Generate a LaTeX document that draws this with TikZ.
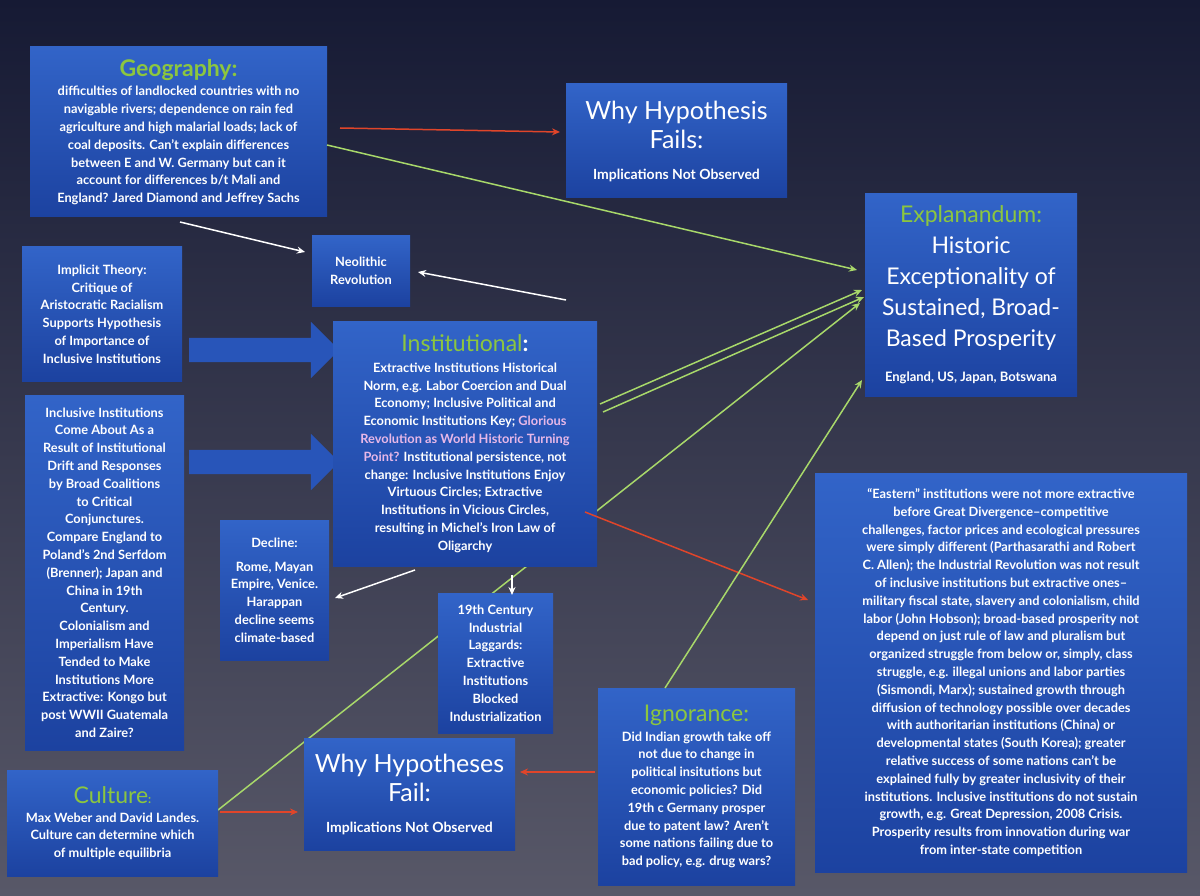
\documentclass[tikz,border=0pt]{standalone}
\usepackage{fontspec}
\setmainfont{Lato}
\usetikzlibrary{shapes.arrows,arrows.meta}
\definecolor{gtitle}{HTML}{8CC63F}
\definecolor{pinkish}{HTML}{E8B8E8}
\definecolor{redarr}{HTML}{E0452A}
\definecolor{greenarr}{HTML}{A8D86A}
\begin{document}
\begin{tikzpicture}[x=1pt,y=-1pt,
  box/.style={draw=none,top color={rgb,255:red,50;green,100;blue,200},bottom color={rgb,255:red,28;green,66;blue,160},
    text=white,align=center,inner sep=2pt,font=\fontsize{12.8}{17.8}\selectfont\bfseries},
  big/.style={font=\fontsize{25}{29}\selectfont\mdseries},
  wht/.style={white,line width=1.5pt,-{Stealth[length=8pt,width=7pt]}},
  red/.style={redarr,line width=1.5pt,-{Stealth[length=8pt,width=7pt]}},
  grn/.style={greenarr,line width=1.5pt,-{Stealth[length=8pt,width=7pt]}},
  barrow/.style={single arrow,draw=none,fill={rgb,255:red,40;green,85;blue,185},single arrow head extend=16pt,minimum height=150pt,inner xsep=0pt,inner ysep=12pt,shape border rotate=0}]
\useasboundingbox (0,0) rectangle (1200,896);
\shade[top color={rgb,255:red,22;green,26;blue,52},bottom color={rgb,255:red,88;green,88;blue,104}] (0,0) rectangle (1200,896);

% connector endpoints
\coordinate (g1) at (340,128); \coordinate (w1) at (560,132);
\coordinate (g2) at (327,145); \coordinate (e1) at (857,270);
\coordinate (g3) at (180,222); \coordinate (n1) at (305,252);
\coordinate (i1) at (566,300); \coordinate (n2) at (418,272);
\coordinate (i2) at (600,404); \coordinate (e2) at (862,290);
\coordinate (i3) at (603,412); \coordinate (e3) at (864,297);
\coordinate (i4) at (585,512); \coordinate (s1) at (808,600);
\coordinate (i5) at (415,570); \coordinate (d1) at (335,598);
\coordinate (i6) at (512,575); \coordinate (t1) at (512,595);
\coordinate (c1) at (218,810); \coordinate (e4) at (860,303);
\coordinate (c2) at (220,812); \coordinate (b1) at (298,812);
\coordinate (g4) at (665,688); \coordinate (e5) at (862,380);
\coordinate (g5) at (595,772); \coordinate (b2) at (520,772);

\draw[grn] (c1) -- (e4);

\node[barrow] (ba1) at (258,350) {};
\node[barrow] (ba2) at (258,462) {};

\node[box,minimum width=297pt,minimum height=170pt] (geo) at (178.5,132) {{\color{gtitle}\fontsize{23}{26}\selectfont Geography:}\\[2pt]
difficulties of landlocked  countries with no\\ navigable rivers; dependence on rain fed\\ agriculture and high malarial loads; lack of\\ coal deposits. Can't explain differences\\ between E and W. Germany but can it\\ account for differences b/t Mali and\\ England?  Jared Diamond and Jeffrey Sachs};

\node[box,big,minimum width=221pt,minimum height=114pt] (why1) at (676.5,141) {Why Hypothesis\\ Fails:\\[2pt] {\fontsize{14}{18}\selectfont\bfseries Implications Not  Observed}};

\node[box,font=\fontsize{23}{31}\selectfont\mdseries,minimum width=212pt,minimum height=202pt] (exp) at (971,295) {{\color{gtitle}Explanandum:}\\ Historic\\ Exceptionality of\\ Sustained, Broad-\\ Based Prosperity\\[4pt] {\fontsize{13}{17}\selectfont\bfseries England, US, Japan, Botswana}};

\node[box,minimum width=98pt,minimum height=70pt] (neo) at (361,271) {Neolithic\\ Revolution};

\node[box,minimum width=160pt,minimum height=134pt] (imp) at (102,314) {Implicit Theory:\\ Critique of\\ Aristocratic Racialism\\ Supports Hypothesis\\ of Importance of\\ Inclusive Institutions};

\node[box,minimum width=264pt,minimum height=245pt] (inst) at (465,443.5) {{\color{gtitle}\fontsize{23}{26}\selectfont\mdseries Institutional}{\fontsize{23}{26}\selectfont :}\\[3pt]
Extractive Institutions Historical\\ Norm, e.g. Labor Coercion and Dual\\ Economy; Inclusive Political and\\ Economic Institutions Key; {\color{pinkish}Glorious}\\ {\color{pinkish}Revolution as World Historic Turning}\\ {\color{pinkish}Point?} Institutional persistence, not\\ change: Inclusive Institutions Enjoy\\ Virtuous Circles; Extractive\\ Institutions in  Vicious Circles,\\ resulting in Michel's Iron Law of\\ Oligarchy};

\node[box,minimum width=159pt,minimum height=355pt] (incl) at (104.5,572.5) {Inclusive Institutions\\ Come About As a\\ Result of Institutional\\ Drift and Responses\\ by Broad Coalitions\\ to Critical\\ Conjunctures.\\ Compare England to\\ Poland's 2nd Serfdom\\ (Brenner); Japan and\\ China in 19th\\ Century.\\ Colonialism and\\ Imperialism Have\\ Tended to Make\\ Institutions More\\ Extractive: Kongo but\\ post WWII Guatemala\\ and Zaire?};

\node[box,minimum width=109pt,minimum height=140pt] (dec) at (274.5,590) {Decline:\\[6pt] Rome,  Mayan\\ Empire, Venice.\\ Harappan\\ decline seems\\ climate-based};

\node[box,minimum width=115pt,minimum height=140pt] (ind) at (495.5,663) {19th Century\\ Industrial\\ Laggards:\\ Extractive\\ Institutions\\ Blocked\\ Industrialization};

\node[box,minimum width=372pt,minimum height=399pt] (east) at (1001,672.5) {``Eastern'' institutions were not more extractive\\ before Great Divergence--competitive\\ challenges, factor prices and ecological pressures\\ were simply different (Parthasarathi and Robert\\ C. Allen); the Industrial Revolution was not result\\ of inclusive institutions but extractive ones--\\ military fiscal state, slavery and colonialism, child\\ labor (John Hobson); broad-based prosperity not\\ depend on just rule of law and pluralism but\\ organized struggle from below or, simply, class\\ struggle, e.g. illegal unions and labor parties\\ (Sismondi, Marx); sustained growth through\\ diffusion of technology possible over decades\\ with authoritarian institutions (China) or\\ developmental states (South Korea); greater\\ relative success of some nations can't be\\ explained fully by greater inclusivity of  their\\ institutions. Inclusive institutions do not sustain\\ growth, e.g. Great Depression, 2008 Crisis.\\ Prosperity results from innovation during war\\ from inter-state competition};

\node[box,minimum width=197pt,minimum height=197pt] (ign) at (696.5,786.5) {{\color{gtitle}\fontsize{23}{26}\selectfont\mdseries Ignorance:}\\[2pt] Did Indian growth take off\\ not due to change in\\ political insitutions but\\ economic policies? Did\\ 19th c Germany prosper\\ due to patent law? Aren't\\ some nations failing due to\\ bad policy, e.g. drug wars?};

\node[box,big,minimum width=211pt,minimum height=112pt] (why2) at (409.5,794) {Why Hypotheses\\ Fail:\\[2pt] {\fontsize{14}{18}\selectfont\bfseries Implications Not  Observed}};

\node[box,minimum width=211pt,minimum height=106pt] (cul) at (112.5,823) {{\color{gtitle}\fontsize{23}{26}\selectfont\mdseries Culture}{\color{gtitle}\fontsize{12}{14}\selectfont :}\\[1pt] Max Weber and David Landes.\\ Culture can determine which\\ of multiple equilibria};

\draw[red] (g1) -- (w1);
\draw[grn] (g2) -- (e1);
\draw[wht] (g3) -- (n1);
\draw[wht] (i1) -- (n2);
\draw[grn] (i2) -- (e2);
\draw[grn] (i3) -- (e3);
\draw[red] (i4) -- (s1);
\draw[wht] (i5) -- (d1);
\draw[wht] (i6) -- (t1);
\draw[red] (c2) -- (b1);
\draw[grn] (g4) -- (e5);
\draw[red] (g5) -- (b2);
\end{tikzpicture}
\end{document}
